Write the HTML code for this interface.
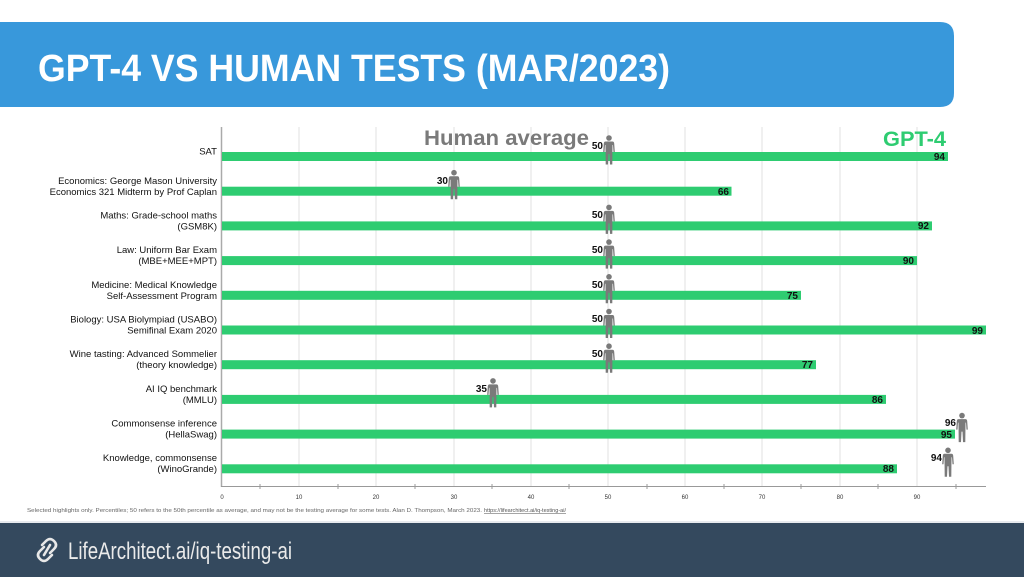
<!DOCTYPE html>
<html><head><meta charset="utf-8"><style>
html,body{margin:0;padding:0;background:#fff;width:1024px;height:577px;overflow:hidden}
svg{display:block}
text{font-family:"Liberation Sans",sans-serif}
</style></head><body>
<svg width="1024" height="577" viewBox="0 0 1024 577" xmlns="http://www.w3.org/2000/svg">
<defs>
<symbol id="man" viewBox="-6 0 12 30" overflow="visible">
<circle cx="0" cy="3" r="2.8" fill="#7a7a7a"/>
<path d="M-3.5 6.5 H3.5 Q5 6.5 5.2 8.5 L5.8 17 L4.5 17 L4 10 L3.5 10 L3.3 29.5 L1 29.5 L0.5 19 L-0.5 19 L-1 29.5 L-3.3 29.5 L-3.5 10 L-4 10 L-4.5 17 L-5.8 17 L-5.2 8.5 Q-5 6.5 -3.5 6.5Z" fill="#7a7a7a"/>
</symbol>
</defs>
<!-- header -->
<path d="M0 22 H940 Q954 22 954 36 V93 Q954 107 940 107 H0 Z" fill="#3898db"/>
<text x="38" y="81" font-size="38" font-weight="bold" fill="#fff" textLength="632" lengthAdjust="spacingAndGlyphs">GPT-4 VS HUMAN TESTS (MAR/2023)</text>
<!-- grid -->
<g stroke="#e2e2e2" stroke-width="1">
<line x1="299" y1="127" x2="299" y2="486"/><line x1="376" y1="127" x2="376" y2="486"/>
<line x1="454" y1="127" x2="454" y2="486"/><line x1="531" y1="127" x2="531" y2="486"/>
<line x1="608" y1="127" x2="608" y2="486"/><line x1="685" y1="127" x2="685" y2="486"/>
<line x1="762" y1="127" x2="762" y2="486"/><line x1="840" y1="127" x2="840" y2="486"/>
<line x1="917" y1="127" x2="917" y2="486"/>
</g>
<line x1="221.5" y1="127" x2="221.5" y2="487" stroke="#aaa" stroke-width="1.5"/>
<line x1="221" y1="486.5" x2="986" y2="486.5" stroke="#999" stroke-width="1"/>
<g stroke="#999">
<line x1="260" y1="484" x2="260" y2="489"/><line x1="338" y1="484" x2="338" y2="489"/><line x1="415" y1="484" x2="415" y2="489"/><line x1="492" y1="484" x2="492" y2="489"/><line x1="569" y1="484" x2="569" y2="489"/><line x1="647" y1="484" x2="647" y2="489"/><line x1="724" y1="484" x2="724" y2="489"/><line x1="801" y1="484" x2="801" y2="489"/><line x1="878" y1="484" x2="878" y2="489"/><line x1="956" y1="484" x2="956" y2="489"/>
</g>
<g font-size="6" fill="#333" text-anchor="middle">
<text x="222" y="499">0</text><text x="299" y="499">10</text><text x="376" y="499">20</text><text x="454" y="499">30</text><text x="531" y="499">40</text><text x="608" y="499">50</text><text x="685" y="499">60</text><text x="762" y="499">70</text><text x="840" y="499">80</text><text x="917" y="499">90</text>
</g>
<text x="424" y="145" font-size="21" font-weight="bold" fill="#7a7a7a" textLength="165" lengthAdjust="spacingAndGlyphs">Human average</text>
<text x="883" y="146" font-size="21" font-weight="bold" fill="#2ecc71" textLength="63" lengthAdjust="spacingAndGlyphs">GPT-4</text>
<!-- bars -->
<g fill="#2ecc71">
<rect x="222" y="152" width="726" height="9"/>
<rect x="222" y="186.7" width="509.5" height="9"/>
<rect x="222" y="221.4" width="710" height="9"/>
<rect x="222" y="256.1" width="695" height="9"/>
<rect x="222" y="290.8" width="579" height="9"/>
<rect x="222" y="325.5" width="764" height="9"/>
<rect x="222" y="360.2" width="594" height="9"/>
<rect x="222" y="394.9" width="664" height="9"/>
<rect x="222" y="429.6" width="733" height="9"/>
<rect x="222" y="464.3" width="675" height="9"/>
</g>
<g font-size="10" font-weight="bold" fill="#111" text-anchor="end">
<text x="945" y="160">94</text><text x="729" y="195">66</text><text x="929" y="229">92</text><text x="914" y="264">90</text><text x="798" y="299">75</text><text x="983" y="334">99</text><text x="813" y="368">77</text><text x="883" y="403">86</text><text x="952" y="438">95</text><text x="894" y="472">88</text>
</g>
<!-- labels -->
<g font-size="9.5" fill="#111" text-anchor="end">
<text x="217" y="154.5">SAT</text>
<text x="217" y="184">Economics: George Mason University</text><text x="217" y="195">Economics 321 Midterm by Prof Caplan</text>
<text x="217" y="218.5">Maths: Grade-school maths</text><text x="217" y="229.5">(GSM8K)</text>
<text x="217" y="253">Law: Uniform Bar Exam</text><text x="217" y="264">(MBE+MEE+MPT)</text>
<text x="217" y="288">Medicine: Medical Knowledge</text><text x="217" y="299">Self-Assessment Program</text>
<text x="217" y="322.5">Biology: USA Biolympiad (USABO)</text><text x="217" y="333.5">Semifinal Exam 2020</text>
<text x="217" y="357">Wine tasting: Advanced Sommelier</text><text x="217" y="368">(theory knowledge)</text>
<text x="217" y="392">AI IQ benchmark</text><text x="217" y="403">(MMLU)</text>
<text x="217" y="426.5">Commonsense inference</text><text x="217" y="437.5">(HellaSwag)</text>
<text x="217" y="461">Knowledge, commonsense</text><text x="217" y="472">(WinoGrande)</text>
</g>
<!-- humans -->
<use href="#man" x="603" y="135" width="12" height="30"/>
<use href="#man" x="448" y="169.7" width="12" height="30"/>
<use href="#man" x="603" y="204.4" width="12" height="30"/>
<use href="#man" x="603" y="239.1" width="12" height="30"/>
<use href="#man" x="603" y="273.8" width="12" height="30"/>
<use href="#man" x="603" y="308.5" width="12" height="30"/>
<use href="#man" x="603" y="343.2" width="12" height="30"/>
<use href="#man" x="487" y="377.9" width="12" height="30"/>
<use href="#man" x="956" y="412.6" width="12" height="30"/>
<use href="#man" x="942" y="447.3" width="12" height="30"/>
<g font-size="10" font-weight="bold" fill="#111" text-anchor="end">
<text x="603" y="149">50</text><text x="448" y="184">30</text><text x="603" y="218">50</text><text x="603" y="253">50</text><text x="603" y="288">50</text><text x="603" y="322">50</text><text x="603" y="357">50</text><text x="487" y="392">35</text><text x="956" y="426">96</text><text x="942" y="461">94</text>
</g>
<text x="27" y="512" font-size="5.3" fill="#666" textLength="455" lengthAdjust="spacingAndGlyphs">Selected highlights only. Percentiles; 50 refers to the 50th percentile as average, and may not be the testing average for some tests. Alan D. Thompson, March 2023.</text>
<text x="401" y="512" font-size="5.3" fill="#555" text-decoration="underline" textLength="82" lengthAdjust="spacingAndGlyphs"></text>
<text x="484" y="512" font-size="5.3" fill="#555" text-decoration="underline" textLength="82" lengthAdjust="spacingAndGlyphs">https://lifearchitect.ai/iq-testing-ai/</text>
<line x1="0" y1="522" x2="1024" y2="522" stroke="#cfd6dc" stroke-width="1"/>
<!-- footer -->
<rect x="0" y="523" width="1024" height="54" fill="#34495e"/>
<g fill="none" stroke="#e8e8e8" stroke-width="2.6" stroke-linecap="round">
<path d="M44 547 L40 551 Q36 555 40 559 Q44 563 48 559 L52 555"/>
<path d="M50 553 L54 549 Q58 545 54 541 Q50 537 46 541 L42 545"/>
<path d="M44 555 L50 545"/>
</g>
<text x="68" y="559" font-size="24" fill="#eaeaea" textLength="224" lengthAdjust="spacingAndGlyphs">LifeArchitect.ai/iq-testing-ai</text>
</svg>
</body></html>
